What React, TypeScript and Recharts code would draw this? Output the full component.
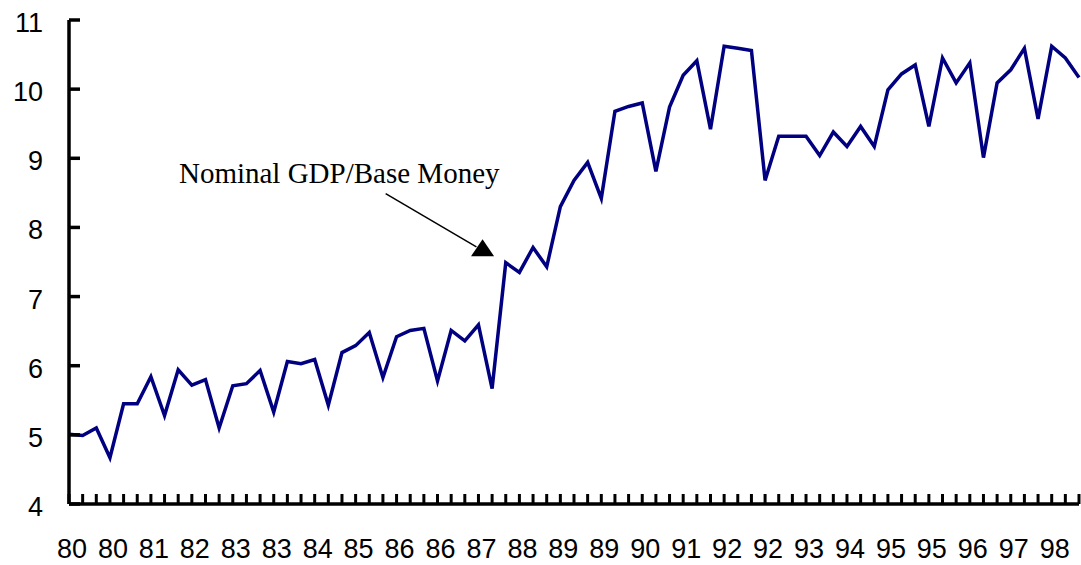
import React from 'react';
import {
  LineChart,
  Line,
  XAxis,
  YAxis,
  ReferenceLine,
  ReferenceDot,
} from 'recharts';

// quarterly, 1980Q1 .. 1998Q3
const ratio = [
  5.01, 4.99, 5.1, 4.67, 5.45, 5.45, 5.84, 5.28, 5.94, 5.72,
  5.8, 5.1, 5.71, 5.74, 5.93, 5.33, 6.06, 6.03, 6.09, 5.43,
  6.19, 6.29, 6.48, 5.83, 6.42, 6.51, 6.54, 5.78, 6.51, 6.36,
  6.59, 5.67, 7.49, 7.35, 7.71, 7.43, 8.3, 8.68, 8.94, 8.42,
  9.68, 9.75, 9.8, 8.81, 9.74, 10.2, 10.41, 9.42, 10.62, 10.59,
  10.56, 8.68, 9.32, 9.32, 9.32, 9.04, 9.38, 9.17, 9.46, 9.17,
  9.99, 10.22, 10.35, 9.46, 10.45, 10.09, 10.38, 9.01, 10.09, 10.28,
  10.59, 9.57, 10.62, 10.45, 10.17,
];

// one label on every third quarter
const tickLabels = [
  '80', '80', '81', '82', '83', '83', '84', '85', '86', '86', '87', '88', '89',
  '89', '90', '91', '92', '92', '93', '94', '95', '95', '96', '97', '98',
];

const yTicks = [4, 5, 6, 7, 8, 9, 10, 11];

const quarters = ratio.map((_, i) => `${1980 + Math.floor(i / 4)}Q${(i % 4) + 1}`);
const data = ratio.map((v, i) => ({ i, quarter: quarters[i], ratio: v }));
const xTicks = data.map((d) => d.i);

const sans = 'Liberation Sans, Arial, sans-serif';

const XTick = (props: any) => {
  const { x, y, payload } = props;
  const idx = payload.value;
  return (
    <g>
      <line x1={x} y1={y} x2={x} y2={y - 10} stroke="#000" strokeWidth={3} />
      {idx % 3 === 0 && (
        <text x={x + 3} y={y + 54} textAnchor="middle" fontFamily={sans} fontSize={27} fill="#000">
          {tickLabels[idx / 3]}
        </text>
      )}
    </g>
  );
};

const YTick = (props: any) => {
  const { x, y, payload } = props;
  return (
    <g>
      <line x1={x} y1={y} x2={x + 11} y2={y} stroke="#000" strokeWidth={3.5} />
      <text x={x - 26} y={y + 12} textAnchor="end" fontFamily={sans} fontSize={27} fill="#000">
        {payload.value}
      </text>
    </g>
  );
};

export default function App() {
  return (
    <div style={{ position: 'absolute', left: 0, top: 0, width: 1081, height: 565, background: '#fff' }}>
      <LineChart width={1081} height={565} data={data} margin={{ top: 20, right: 2, left: 0, bottom: 0 }}>
        <XAxis
          dataKey="i"
          type="number"
          domain={[0, 74]}
          ticks={xTicks}
          interval={0}
          height={61}
          tickSize={0}
          tickMargin={0}
          tickLine={false}
          tick={<XTick />}
          axisLine={{ stroke: '#000', strokeWidth: 3.5 }}
        />
        <YAxis
          domain={[4, 11]}
          ticks={yTicks}
          interval={0}
          width={69}
          tickSize={0}
          tickMargin={0}
          tickLine={false}
          tick={<YTick />}
          axisLine={{ stroke: '#000', strokeWidth: 3.5 }}
        />
        <Line
          type="linear"
          dataKey="ratio"
          stroke="#000080"
          strokeWidth={3.5}
          dot={false}
          isAnimationActive={false}
        />
        <ReferenceLine
          segment={[
            { x: 23.2, y: 8.49 },
            { x: 29.85, y: 7.72 },
          ]}
          stroke="#000"
          strokeWidth={1.5}
        />
        <ReferenceDot
          x={30.3}
          y={7.7}
          r={0}
          shape={(p: any) => (
            <polygon
              points={`${p.cx},${p.cy - 9} ${p.cx - 11.5},${p.cy + 8} ${p.cx + 11.5},${p.cy + 8}`}
              fill="#000"
            />
          )}
        />
        <ReferenceDot
          x={19.8}
          y={8.64}
          r={0}
          shape={(p: any) => (
            <text x={p.cx} y={p.cy} textAnchor="middle" fontFamily="Liberation Serif, Times New Roman, serif" fontSize={29} fill="#000">
              Nominal GDP/Base Money
            </text>
          )}
        />
      </LineChart>
    </div>
  );
}
